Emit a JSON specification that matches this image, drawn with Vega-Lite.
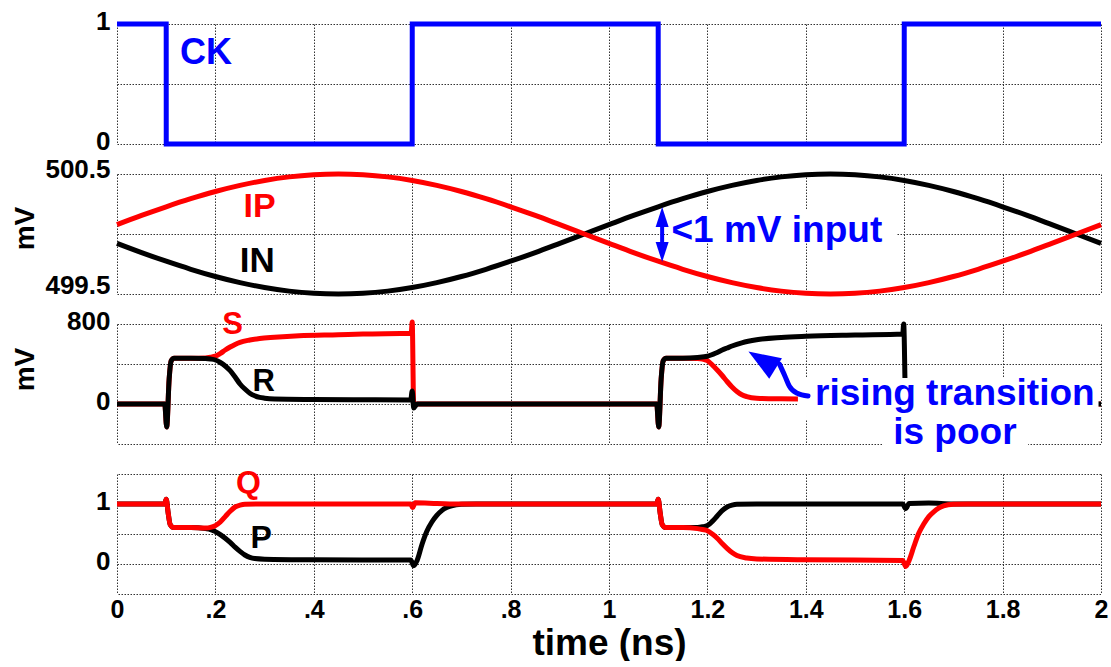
{
  "$schema": "https://vega.github.io/schema/vega-lite/v6.json",
  "background": "white",
  "padding": {"left": 11, "top": 8, "right": 0, "bottom": 0},
  "spacing": 30,
  "bounds": "flush",
  "config": {
    "view": {"stroke": null},
    "font": "Liberation Sans",
    "axis": {
      "domain": false, "ticks": false, "grid": true,
      "gridColor": "#333", "gridDash": [1.5, 1.5], "gridWidth": 1,
      "labelFont": "Liberation Sans", "labelFontWeight": "bold", "labelFontSize": 26, "labelColor": "#000",
      "titleFont": "Liberation Sans", "titleFontWeight": "bold", "titleColor": "#000",
      "labelPadding": 7, "labelFlush": false, "labelOverlap": false, "labelBound": false
    }
  },
  "datasets": {
    "ck": [{"t":0,"v":1},{"t":0.1,"v":1},{"t":0.1001,"v":0},{"t":0.6,"v":0},{"t":0.6001,"v":1},{"t":1.1,"v":1},{"t":1.1001,"v":0},{"t":1.6,"v":0},{"t":1.6001,"v":1},{"t":2,"v":1}],
    "ip": [{"t":0,"v":500.078},{"t":0.05,"v":500.155},{"t":0.1,"v":500.227},{"t":0.15,"v":500.294},{"t":0.2,"v":500.354},{"t":0.25,"v":500.405},{"t":0.3,"v":500.446},{"t":0.35,"v":500.476},{"t":0.4,"v":500.494},{"t":0.45,"v":500.5},{"t":0.5,"v":500.494},{"t":0.55,"v":500.476},{"t":0.6,"v":500.446},{"t":0.65,"v":500.405},{"t":0.7,"v":500.354},{"t":0.75,"v":500.294},{"t":0.8,"v":500.227},{"t":0.85,"v":500.155},{"t":0.9,"v":500.078},{"t":0.95,"v":500.0},{"t":1.0,"v":499.922},{"t":1.05,"v":499.845},{"t":1.1,"v":499.773},{"t":1.15,"v":499.706},{"t":1.2,"v":499.646},{"t":1.25,"v":499.595},{"t":1.3,"v":499.554},{"t":1.35,"v":499.524},{"t":1.4,"v":499.506},{"t":1.45,"v":499.5},{"t":1.5,"v":499.506},{"t":1.55,"v":499.524},{"t":1.6,"v":499.554},{"t":1.65,"v":499.595},{"t":1.7,"v":499.646},{"t":1.75,"v":499.706},{"t":1.8,"v":499.773},{"t":1.85,"v":499.845},{"t":1.9,"v":499.922},{"t":1.95,"v":500.0},{"t":2.0,"v":500.078}],
    "inn": [{"t":0,"v":499.922},{"t":0.05,"v":499.845},{"t":0.1,"v":499.773},{"t":0.15,"v":499.706},{"t":0.2,"v":499.646},{"t":0.25,"v":499.595},{"t":0.3,"v":499.554},{"t":0.35,"v":499.524},{"t":0.4,"v":499.506},{"t":0.45,"v":499.5},{"t":0.5,"v":499.506},{"t":0.55,"v":499.524},{"t":0.6,"v":499.554},{"t":0.65,"v":499.595},{"t":0.7,"v":499.646},{"t":0.75,"v":499.706},{"t":0.8,"v":499.773},{"t":0.85,"v":499.845},{"t":0.9,"v":499.922},{"t":0.95,"v":500.0},{"t":1.0,"v":500.078},{"t":1.05,"v":500.155},{"t":1.1,"v":500.227},{"t":1.15,"v":500.294},{"t":1.2,"v":500.354},{"t":1.25,"v":500.405},{"t":1.3,"v":500.446},{"t":1.35,"v":500.476},{"t":1.4,"v":500.494},{"t":1.45,"v":500.5},{"t":1.5,"v":500.494},{"t":1.55,"v":500.476},{"t":1.6,"v":500.446},{"t":1.65,"v":500.405},{"t":1.7,"v":500.354},{"t":1.75,"v":500.294},{"t":1.8,"v":500.227},{"t":1.85,"v":500.155},{"t":1.9,"v":500.078},{"t":1.95,"v":500.0},{"t":2.0,"v":499.922}],
    "s": [{"t":0,"v":0},{"t":0.097,"v":0},{"t":0.101,"v":-230},{"t":0.106,"v":250},{"t":0.11,"v":430},{"t":0.116,"v":458},{"t":0.15,"v":458},{"t":0.18,"v":460},{"t":0.19,"v":468},{"t":0.2,"v":478},{"t":0.21,"v":505},{"t":0.22,"v":540},{"t":0.23,"v":570},{"t":0.24,"v":596},{"t":0.25,"v":617},{"t":0.27,"v":640},{"t":0.29,"v":656},{"t":0.32,"v":668},{"t":0.37,"v":683},{"t":0.45,"v":693},{"t":0.5,"v":700},{"t":0.598,"v":707},{"t":0.6,"v":820},{"t":0.603,"v":0},{"t":1.097,"v":0},{"t":1.101,"v":-230},{"t":1.106,"v":250},{"t":1.11,"v":430},{"t":1.116,"v":458},{"t":1.15,"v":458},{"t":1.18,"v":455},{"t":1.19,"v":450},{"t":1.2,"v":433},{"t":1.21,"v":390},{"t":1.22,"v":340},{"t":1.23,"v":285},{"t":1.24,"v":225},{"t":1.25,"v":170},{"t":1.26,"v":125},{"t":1.27,"v":92},{"t":1.28,"v":74},{"t":1.3,"v":58},{"t":1.35,"v":52},{"t":1.4,"v":50},{"t":1.5,"v":48},{"t":1.597,"v":45},{"t":1.6,"v":120},{"t":1.603,"v":0},{"t":2,"v":0}],
    "r": [{"t":0,"v":0},{"t":0.097,"v":0},{"t":0.101,"v":-230},{"t":0.106,"v":250},{"t":0.11,"v":430},{"t":0.116,"v":458},{"t":0.15,"v":458},{"t":0.18,"v":455},{"t":0.19,"v":450},{"t":0.2,"v":440},{"t":0.21,"v":415},{"t":0.22,"v":380},{"t":0.23,"v":333},{"t":0.24,"v":270},{"t":0.25,"v":200},{"t":0.26,"v":150},{"t":0.27,"v":108},{"t":0.28,"v":82},{"t":0.29,"v":66},{"t":0.3,"v":58},{"t":0.32,"v":50},{"t":0.4,"v":45},{"t":0.5,"v":42},{"t":0.597,"v":40},{"t":0.6,"v":130},{"t":0.603,"v":-40},{"t":0.61,"v":0},{"t":1.097,"v":0},{"t":1.101,"v":-230},{"t":1.106,"v":250},{"t":1.11,"v":430},{"t":1.116,"v":458},{"t":1.15,"v":458},{"t":1.18,"v":465},{"t":1.2,"v":477},{"t":1.21,"v":495},{"t":1.22,"v":515},{"t":1.23,"v":540},{"t":1.24,"v":560},{"t":1.25,"v":580},{"t":1.27,"v":612},{"t":1.3,"v":642},{"t":1.35,"v":665},{"t":1.4,"v":677},{"t":1.5,"v":690},{"t":1.597,"v":700},{"t":1.599,"v":800},{"t":1.603,"v":0},{"t":2,"v":0}],
    "p": [{"t":0,"v":1},{"t":0.097,"v":1},{"t":0.1,"v":1.08},{"t":0.104,"v":0.85},{"t":0.108,"v":0.66},{"t":0.115,"v":0.61},{"t":0.15,"v":0.61},{"t":0.18,"v":0.59},{"t":0.19,"v":0.575},{"t":0.2,"v":0.54},{"t":0.21,"v":0.49},{"t":0.22,"v":0.43},{"t":0.23,"v":0.36},{"t":0.24,"v":0.28},{"t":0.25,"v":0.21},{"t":0.26,"v":0.15},{"t":0.27,"v":0.11},{"t":0.28,"v":0.09},{"t":0.3,"v":0.08},{"t":0.4,"v":0.07},{"t":0.597,"v":0.065},{"t":0.603,"v":-0.03},{"t":0.61,"v":0.06},{"t":0.62,"v":0.33},{"t":0.63,"v":0.55},{"t":0.64,"v":0.7},{"t":0.65,"v":0.81},{"t":0.66,"v":0.89},{"t":0.67,"v":0.94},{"t":0.68,"v":0.97},{"t":0.7,"v":0.995},{"t":0.73,"v":1},{"t":1.097,"v":1},{"t":1.1,"v":1.08},{"t":1.104,"v":0.85},{"t":1.108,"v":0.66},{"t":1.115,"v":0.61},{"t":1.15,"v":0.61},{"t":1.18,"v":0.61},{"t":1.19,"v":0.62},{"t":1.2,"v":0.64},{"t":1.21,"v":0.71},{"t":1.22,"v":0.8},{"t":1.23,"v":0.89},{"t":1.24,"v":0.95},{"t":1.25,"v":0.98},{"t":1.26,"v":0.995},{"t":1.3,"v":1},{"t":1.597,"v":1},{"t":1.603,"v":0.92},{"t":1.61,"v":1.01},{"t":1.65,"v":1.015},{"t":1.7,"v":1},{"t":2,"v":1}],
    "q": [{"t":0,"v":1},{"t":0.097,"v":1},{"t":0.1,"v":1.08},{"t":0.104,"v":0.85},{"t":0.108,"v":0.66},{"t":0.115,"v":0.61},{"t":0.15,"v":0.61},{"t":0.18,"v":0.6},{"t":0.19,"v":0.61},{"t":0.2,"v":0.64},{"t":0.21,"v":0.7},{"t":0.22,"v":0.79},{"t":0.23,"v":0.88},{"t":0.24,"v":0.95},{"t":0.25,"v":0.98},{"t":0.26,"v":0.995},{"t":0.3,"v":1},{"t":0.597,"v":1},{"t":0.601,"v":0.94},{"t":0.606,"v":1.02},{"t":0.65,"v":1.01},{"t":0.7,"v":1},{"t":1.097,"v":1},{"t":1.1,"v":1.08},{"t":1.104,"v":0.85},{"t":1.108,"v":0.66},{"t":1.115,"v":0.61},{"t":1.15,"v":0.61},{"t":1.18,"v":0.59},{"t":1.19,"v":0.575},{"t":1.2,"v":0.555},{"t":1.21,"v":0.5},{"t":1.22,"v":0.43},{"t":1.23,"v":0.34},{"t":1.24,"v":0.26},{"t":1.25,"v":0.19},{"t":1.26,"v":0.14},{"t":1.28,"v":0.1},{"t":1.3,"v":0.085},{"t":1.4,"v":0.07},{"t":1.597,"v":0.06},{"t":1.603,"v":-0.04},{"t":1.61,"v":0.06},{"t":1.62,"v":0.3},{"t":1.63,"v":0.52},{"t":1.64,"v":0.67},{"t":1.65,"v":0.79},{"t":1.66,"v":0.87},{"t":1.67,"v":0.93},{"t":1.68,"v":0.97},{"t":1.7,"v":0.995},{"t":1.73,"v":1},{"t":2,"v":1}]
  },
  "vconcat": [
    {
      "width": 984, "height": 120,
      "layer": [
        {
          "data": {"name": "ck"},
          "mark": {"type": "line", "color": "#0000ff", "strokeWidth": 5, "strokeJoin": "miter"},
          "encoding": {
            "x": {"field": "t", "type": "quantitative", "scale": {"domain": [0, 2], "nice": false, "zero": false},
                  "axis": {"values": [0,0.2,0.4,0.6,0.8,1,1.2,1.4,1.6,1.8,2], "labels": false, "title": null}},
            "y": {"field": "v", "type": "quantitative", "scale": {"domain": [0, 1], "nice": false, "zero": false},
                  "axis": {"values": [0, 0.5, 1], "title": null, "labelOffset": -2.5,
                           "labelExpr": "datum.value == 0.5 ? '' : format(datum.value, '~g')"}}
          }
        },
        {
          "data": {"values": [{"t": 0.181, "v": 0.667, "label": "CK"}]},
          "mark": {"type": "text", "font": "Liberation Sans", "fontWeight": "bold", "fontSize": 36, "color": "#0000ff", "align": "center", "baseline": "alphabetic"},
          "encoding": {
            "x": {"field": "t", "type": "quantitative", "scale": {"domain": [0, 2], "nice": false, "zero": false}},
            "y": {"field": "v", "type": "quantitative", "scale": {"domain": [0, 1], "nice": false, "zero": false}},
            "text": {"field": "label"}
          }
        }
      ]
    },
    {
      "width": 984, "height": 120,
      "layer": [
        {
          "data": {"name": "inn"},
          "mark": {"type": "line", "color": "#000000", "strokeWidth": 5, "interpolate": "monotone"},
          "encoding": {
            "x": {"field": "t", "type": "quantitative", "scale": {"domain": [0, 2], "nice": false, "zero": false},
                  "axis": {"values": [0,0.2,0.4,0.6,0.8,1,1.2,1.4,1.6,1.8,2], "labels": false, "title": null}},
            "y": {"field": "v", "type": "quantitative", "scale": {"domain": [499.5, 500.5], "nice": false, "zero": false},
                  "axis": {"values": [499.5, 500, 500.5], "title": "mV", "titleFontSize": 28, "titleAngle": 270,
                           "titleX": -84, "titleY": 54, "titleBaseline": "alphabetic", "titleAlign": "center",
                           "labelOffset": {"condition": {"test": "datum.value == 499.5", "value": -8.5}, "value": -5},
                           "labelExpr": "datum.value == 500 ? '' : format(datum.value, '~g')"}}
          }
        },
        {
          "data": {"name": "ip"},
          "mark": {"type": "line", "color": "#ff0000", "strokeWidth": 5, "interpolate": "monotone"},
          "encoding": {
            "x": {"field": "t", "type": "quantitative", "scale": {"domain": [0, 2], "nice": false, "zero": false}},
            "y": {"field": "v", "type": "quantitative", "scale": {"domain": [499.5, 500.5], "nice": false, "zero": false}}
          }
        },
        {
          "data": {"values": [{"t": 1.12, "t2": 1.585, "v": 500.208, "v2": 499.925}]},
          "mark": {"type": "rect", "fill": "white"},
          "encoding": {
            "x": {"field": "t", "type": "quantitative", "scale": {"domain": [0, 2], "nice": false, "zero": false}},
            "x2": {"field": "t2"},
            "y": {"field": "v", "type": "quantitative", "scale": {"domain": [499.5, 500.5], "nice": false, "zero": false}},
            "y2": {"field": "v2"}
          }
        },
        {
          "data": {"values": [{"t": 1.127, "v": 499.933, "label": "<1 mV input"}]},
          "mark": {"type": "text", "font": "Liberation Sans", "fontWeight": "bold", "fontSize": 37, "color": "#0000ff", "align": "left", "baseline": "alphabetic"},
          "encoding": {
            "x": {"field": "t", "type": "quantitative", "scale": {"domain": [0, 2], "nice": false, "zero": false}},
            "y": {"field": "v", "type": "quantitative", "scale": {"domain": [499.5, 500.5], "nice": false, "zero": false}},
            "text": {"field": "label"}
          }
        },
        {
          "data": {"values": [{"t": 1.108, "v": 500.1, "v2": 499.9}]},
          "mark": {"type": "rule", "color": "#0000ff", "strokeWidth": 4},
          "encoding": {
            "x": {"field": "t", "type": "quantitative", "scale": {"domain": [0, 2], "nice": false, "zero": false}},
            "y": {"field": "v", "type": "quantitative", "scale": {"domain": [499.5, 500.5], "nice": false, "zero": false}},
            "y2": {"field": "v2"}
          }
        },
        {
          "data": {"values": [{"t": 1.108, "v": 500.142}]},
          "mark": {"type": "point", "shape": "M0,-1L0.65,1L-0.65,1Z", "filled": true, "color": "#0000ff", "size": 400, "opacity": 1, "strokeWidth": 0},
          "encoding": {
            "x": {"field": "t", "type": "quantitative", "scale": {"domain": [0, 2], "nice": false, "zero": false}},
            "y": {"field": "v", "type": "quantitative", "scale": {"domain": [499.5, 500.5], "nice": false, "zero": false}}
          }
        },
        {
          "data": {"values": [{"t": 1.108, "v": 499.85}]},
          "mark": {"type": "point", "shape": "M0,1L0.65,-1L-0.65,-1Z", "filled": true, "color": "#0000ff", "size": 400, "opacity": 1, "strokeWidth": 0},
          "encoding": {
            "x": {"field": "t", "type": "quantitative", "scale": {"domain": [0, 2], "nice": false, "zero": false}},
            "y": {"field": "v", "type": "quantitative", "scale": {"domain": [499.5, 500.5], "nice": false, "zero": false}}
          }
        },
        {
          "data": {"values": [{"t": 0.29, "v": 500.142, "label": "IP"}]},
          "mark": {"type": "text", "font": "Liberation Sans", "fontWeight": "bold", "fontSize": 34, "color": "#ff0000", "align": "center", "baseline": "alphabetic"},
          "encoding": {
            "x": {"field": "t", "type": "quantitative", "scale": {"domain": [0, 2], "nice": false, "zero": false}},
            "y": {"field": "v", "type": "quantitative", "scale": {"domain": [499.5, 500.5], "nice": false, "zero": false}},
            "text": {"field": "label"}
          }
        },
        {
          "data": {"values": [{"t": 0.285, "v": 499.683, "label": "IN"}]},
          "mark": {"type": "text", "font": "Liberation Sans", "fontWeight": "bold", "fontSize": 35, "color": "#000000", "align": "center", "baseline": "alphabetic"},
          "encoding": {
            "x": {"field": "t", "type": "quantitative", "scale": {"domain": [0, 2], "nice": false, "zero": false}},
            "y": {"field": "v", "type": "quantitative", "scale": {"domain": [499.5, 500.5], "nice": false, "zero": false}},
            "text": {"field": "label"}
          }
        }
      ]
    },
    {
      "width": 984, "height": 120,
      "layer": [
        {
          "data": {"values": [{"v": -400}, {"v": 400}]},
          "mark": {"type": "rule", "color": "#333", "strokeWidth": 1, "strokeDash": [1.5, 1.5], "yOffset": 0.5},
          "encoding": {
            "y": {"field": "v", "type": "quantitative", "scale": {"domain": [-400, 800], "nice": false, "zero": false}}
          }
        },
        {
          "data": {"name": "s"},
          "mark": {"type": "line", "color": "#ff0000", "strokeWidth": 5, "strokeJoin": "round", "interpolate": "monotone"},
          "encoding": {
            "x": {"field": "t", "type": "quantitative", "scale": {"domain": [0, 2], "nice": false, "zero": false},
                  "axis": {"values": [0,0.2,0.4,0.6,0.8,1,1.2,1.4,1.6,1.8,2], "labels": false, "title": null}},
            "y": {"field": "v", "type": "quantitative", "scale": {"domain": [-400, 800], "nice": false, "zero": false},
                  "axis": {"values": [0, 800], "labelExpr": "format(datum.value, '~g')", "title": "mV", "titleFontSize": 28, "titleAngle": 270,
                           "titleX": -84, "titleY": 45, "titleBaseline": "alphabetic", "titleAlign": "center",
                           "labelOffset": -3}}
          }
        },
        {
          "data": {"name": "r"},
          "mark": {"type": "line", "color": "#000000", "strokeWidth": 5, "strokeJoin": "round", "interpolate": "monotone"},
          "encoding": {
            "x": {"field": "t", "type": "quantitative", "scale": {"domain": [0, 2], "nice": false, "zero": false}},
            "y": {"field": "v", "type": "quantitative", "scale": {"domain": [-400, 800], "nice": false, "zero": false}}
          }
        },
        {
          "data": {"values": [{"t": 1.384, "t2": 1.995, "v": 260, "v2": -150}, {"t": 1.557, "t2": 1.852, "v": -150, "v2": -490}]},
          "mark": {"type": "rect", "fill": "white"},
          "encoding": {
            "x": {"field": "t", "type": "quantitative", "scale": {"domain": [0, 2], "nice": false, "zero": false}},
            "x2": {"field": "t2"},
            "y": {"field": "v", "type": "quantitative", "scale": {"domain": [-400, 800], "nice": false, "zero": false}},
            "y2": {"field": "v2"}
          }
        },
        {
          "data": {"values": [{"t": 1.703, "v": -5, "label": "rising transition"}, {"t": 1.703, "v": -395, "label": "is poor"}]},
          "mark": {"type": "text", "font": "Liberation Sans", "fontWeight": "bold", "fontSize": 37, "color": "#0000ff", "align": "center", "baseline": "alphabetic"},
          "encoding": {
            "x": {"field": "t", "type": "quantitative", "scale": {"domain": [0, 2], "nice": false, "zero": false}},
            "y": {"field": "v", "type": "quantitative", "scale": {"domain": [-400, 800], "nice": false, "zero": false}},
            "text": {"field": "label"}
          }
        },
        {
          "data": {"values": [{"t": 1.3464, "v": 400}, {"t": 1.3573, "v": 283}, {"t": 1.3667, "v": 177}, {"t": 1.3827, "v": 107}, {"t": 1.4045, "v": 80}]},
          "mark": {"type": "line", "color": "#0000ff", "strokeWidth": 5, "interpolate": "monotone", "strokeCap": "round"},
          "encoding": {
            "x": {"field": "t", "type": "quantitative", "scale": {"domain": [0, 2], "nice": false, "zero": false}},
            "y": {"field": "v", "type": "quantitative", "scale": {"domain": [-400, 800], "nice": false, "zero": false}}
          }
        },
        {
          "data": {"values": [{"t": 1.311, "v": 440}]},
          "mark": {"type": "point", "shape": "M0,-1L0.75,1L-0.75,1Z", "filled": true, "color": "#0000ff", "size": 1024, "opacity": 1, "strokeWidth": 0, "angle": -58},
          "encoding": {
            "x": {"field": "t", "type": "quantitative", "scale": {"domain": [0, 2], "nice": false, "zero": false}},
            "y": {"field": "v", "type": "quantitative", "scale": {"domain": [-400, 800], "nice": false, "zero": false}}
          }
        },
        {
          "data": {"values": [{"t": 0.235, "v": 700, "label": "S"}]},
          "mark": {"type": "text", "font": "Liberation Sans", "fontWeight": "bold", "fontSize": 31, "color": "#ff0000", "align": "center", "baseline": "alphabetic"},
          "encoding": {
            "x": {"field": "t", "type": "quantitative", "scale": {"domain": [0, 2], "nice": false, "zero": false}},
            "y": {"field": "v", "type": "quantitative", "scale": {"domain": [-400, 800], "nice": false, "zero": false}},
            "text": {"field": "label"}
          }
        },
        {
          "data": {"values": [{"t": 0.298, "v": 130, "label": "R"}]},
          "mark": {"type": "text", "font": "Liberation Sans", "fontWeight": "bold", "fontSize": 31, "color": "#000000", "align": "center", "baseline": "alphabetic"},
          "encoding": {
            "x": {"field": "t", "type": "quantitative", "scale": {"domain": [0, 2], "nice": false, "zero": false}},
            "y": {"field": "v", "type": "quantitative", "scale": {"domain": [-400, 800], "nice": false, "zero": false}},
            "text": {"field": "label"}
          }
        }
      ]
    },
    {
      "width": 984, "height": 120,
      "layer": [
        {
          "data": {"values": [{"v": -0.5}, {"v": 0.5}, {"v": 1.5}]},
          "mark": {"type": "rule", "color": "#333", "strokeWidth": 1, "strokeDash": [1.5, 1.5], "yOffset": 0.5},
          "encoding": {
            "y": {"field": "v", "type": "quantitative", "scale": {"domain": [-0.5, 1.5], "nice": false, "zero": false}}
          }
        },
        {
          "data": {"name": "p"},
          "mark": {"type": "line", "color": "#000000", "strokeWidth": 5, "strokeJoin": "round", "interpolate": "monotone"},
          "encoding": {
            "x": {"field": "t", "type": "quantitative", "scale": {"domain": [0, 2], "nice": false, "zero": false},
                  "axis": {"values": [0,0.2,0.4,0.6,0.8,1,1.2,1.4,1.6,1.8,2], "labels": true,
                           "labelExpr": "datum.value > 0 && datum.value < 1 ? substring(format(datum.value, '.1f'), 1) : format(datum.value, '~g')",
                           "labelFontSize": 25, "labelBaseline": "alphabetic", "labelPadding": 23,
                           "title": "time (ns)", "titleFontSize": 37, "titleBaseline": "alphabetic", "titleY": 60, "titleX": 492, "titleAlign": "center"}},
            "y": {"field": "v", "type": "quantitative", "scale": {"domain": [-0.5, 1.5], "nice": false, "zero": false},
                  "axis": {"values": [0, 1], "labelExpr": "format(datum.value, '~g')", "title": null, "labelOffset": -3}}
          }
        },
        {
          "data": {"name": "q"},
          "mark": {"type": "line", "color": "#ff0000", "strokeWidth": 5, "strokeJoin": "round", "interpolate": "monotone"},
          "encoding": {
            "x": {"field": "t", "type": "quantitative", "scale": {"domain": [0, 2], "nice": false, "zero": false}},
            "y": {"field": "v", "type": "quantitative", "scale": {"domain": [-0.5, 1.5], "nice": false, "zero": false}}
          }
        },
        {
          "data": {"values": [{"t": 0.267, "v": 1.183, "label": "Q"}]},
          "mark": {"type": "text", "font": "Liberation Sans", "fontWeight": "bold", "fontSize": 32, "color": "#ff0000", "align": "center", "baseline": "alphabetic"},
          "encoding": {
            "x": {"field": "t", "type": "quantitative", "scale": {"domain": [0, 2], "nice": false, "zero": false}},
            "y": {"field": "v", "type": "quantitative", "scale": {"domain": [-0.5, 1.5], "nice": false, "zero": false}},
            "text": {"field": "label"}
          }
        },
        {
          "data": {"values": [{"t": 0.293, "v": 0.267, "label": "P"}]},
          "mark": {"type": "text", "font": "Liberation Sans", "fontWeight": "bold", "fontSize": 32, "color": "#000000", "align": "center", "baseline": "alphabetic"},
          "encoding": {
            "x": {"field": "t", "type": "quantitative", "scale": {"domain": [0, 2], "nice": false, "zero": false}},
            "y": {"field": "v", "type": "quantitative", "scale": {"domain": [-0.5, 1.5], "nice": false, "zero": false}},
            "text": {"field": "label"}
          }
        }
      ]
    }
  ]
}
